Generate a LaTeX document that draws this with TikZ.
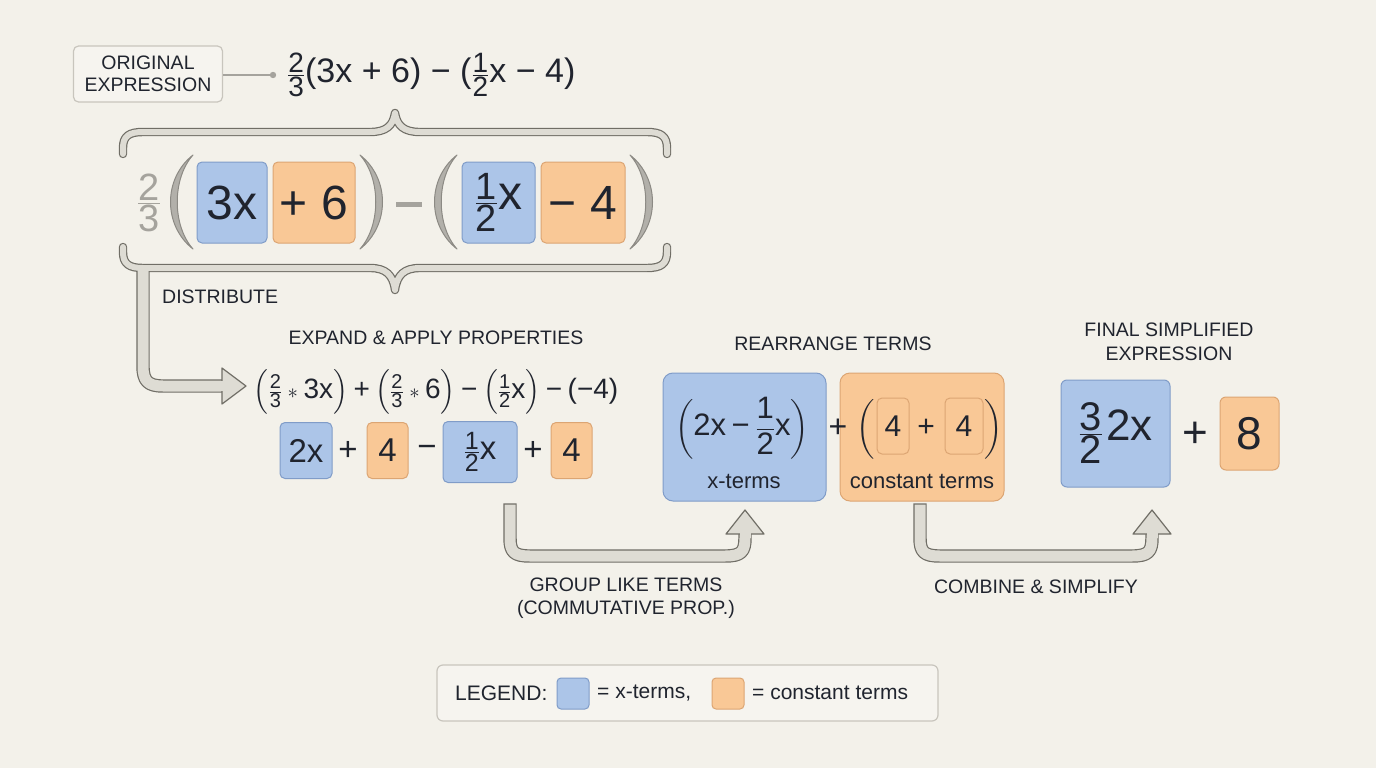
\documentclass[tikz,border=0pt]{standalone}
\usepackage{amsmath}
\usepackage{fontspec}
\setmainfont{Liberation Sans}
\definecolor{bg}{RGB}{243,241,234}
\definecolor{ink}{RGB}{32,36,46}
\definecolor{bfill}{RGB}{172,197,232}
\definecolor{bline}{RGB}{128,156,200}
\definecolor{ofill}{RGB}{249,200,150}
\definecolor{oline}{RGB}{220,165,115}
\definecolor{edge}{RGB}{112,110,102}
\definecolor{innerc}{RGB}{222,220,212}
\definecolor{pgray}{RGB}{165,163,157}
\definecolor{pfill}{RGB}{178,176,170}
\definecolor{pedge}{RGB}{140,138,132}
\definecolor{lgfill}{RGB}{246,244,239}
\definecolor{lgline}{RGB}{200,197,189}
\newcommand\ffrac[3]{\genfrac{}{}{}{}{\text{\fontsize{#1}{#1}\selectfont #2}}{\text{\fontsize{#1}{#1}\selectfont #3}}}
\newcommand\fs[1]{\fontsize{#1}{#1}\selectfont}
\newcommand\crescL[5]{\filldraw[parenstyle] (#1,#2) .. controls ({#1-#4},{#2+0.25*(#3-#2)}) and ({#1-#4},{#2+0.75*(#3-#2)}) .. (#1,#3) .. controls ({#1-#5},{#2+0.75*(#3-#2)}) and ({#1-#5},{#2+0.25*(#3-#2)}) .. (#1,#2) -- cycle;}
\newcommand\crescR[5]{\filldraw[parenstyle] (#1,#2) .. controls ({#1+#4},{#2+0.25*(#3-#2)}) and ({#1+#4},{#2+0.75*(#3-#2)}) .. (#1,#3) .. controls ({#1+#5},{#2+0.75*(#3-#2)}) and ({#1+#5},{#2+0.25*(#3-#2)}) .. (#1,#2) -- cycle;}
\tikzset{
  bx/.style={rounded corners=5pt, line width=1pt, inner sep=0pt, text=ink},
  xbox/.style={bx, fill=bfill, draw=bline},
  cbox/.style={bx, fill=ofill, draw=oline},
  lab/.style={font=\fs{19.5}, text=ink, align=center, inner sep=0pt},
  parenstyle/.style={fill=pfill, draw=pedge, line width=1pt, line join=round},
  bracestyle/.style={draw=edge, double=innerc, line width=1.2pt, double distance=6pt, line cap=round, line join=round},
  shaft/.style={draw=edge, double=innerc, line width=1.2pt, double distance=11pt, line join=round},
  headstyle/.style={fill=innerc, draw=edge, line width=1.2pt, line join=round},
}
\begin{document}
\begin{tikzpicture}[x=1pt,y=-1pt, every node/.style={text=ink, inner sep=0pt}]
\useasboundingbox (0,0) rectangle (1376,768);
\fill[bg] (0,0) rectangle (1376,768);

% ---------- original expression ----------
\node[lab, rounded corners=5pt, fill=lgfill, draw=lgline, line width=1.2pt, minimum width=149, minimum height=56, font=\fontsize{19.5}{22}\selectfont] (orig) at (148,74) {ORIGINAL\\EXPRESSION};
\coordinate (dot) at (273,75);
\draw[pgray, line width=1.2pt] (orig.east |- dot) -- (dot);
\fill[pgray] (dot) circle (3.2);
\node[anchor=west, font=\fs{34}] (expr) at (287,75) {$\ffrac{28}{2}{3}$(3x + 6) − ($\ffrac{28}{1}{2}$x − 4)};

% ---------- braces ----------
\draw[bracestyle] (123,154) -- (123,148) .. controls (123,136) and (129,132) .. (143,132) -- (370,132) .. controls (386,132) and (393,126) .. (395,113) .. controls (397,126) and (404,132) .. (420,132) -- (647,132) .. controls (661,132) and (667,136) .. (667,148) -- (667,154);
\draw[bracestyle] (123,247) -- (123,252) .. controls (123,264) and (129,268) .. (143,268) -- (370,268) .. controls (386,268) and (393,275) .. (395,290) .. controls (397,275) and (404,268) .. (420,268) -- (647,268) .. controls (661,268) and (667,264) .. (667,252) -- (667,247);

% ---------- grouped original ----------
\node[font=\fs{42}, text=pgray] (gfr) at (149,203) {$\ffrac{38}{2}{3}$};
\crescL{193}{155}{249}{30}{21}
\node[xbox, minimum width=70, minimum height=81, font=\fs{48}] (b3x) at (232,202.5) {3x};
\node[cbox, minimum width=82, minimum height=81, font=\fs{48}] (b6) at (314,202.5) {+ 6};
\crescR{360}{155}{249}{30}{21}
\draw[pgray, line width=5pt] (396,204) -- (422,204);
\crescL{457}{155}{249}{30}{21}
\node[xbox, minimum width=73, minimum height=81, font=\fs{48}] (bhx) at (498.5,202.5) {$\ffrac{38}{1}{2}$x};
\node[cbox, minimum width=84, minimum height=81, font=\fs{48}] (b4) at (583,202.5) {− 4};
\crescR{630}{155}{249}{30}{21}

% ---------- distribute ----------
\node[lab, anchor=west] (distl) at (162,297) {DISTRIBUTE};
\coordinate (d0) at (143,271);
\coordinate (d1) at (223,386);
\draw[shaft] (d0) -- (143,366) .. controls (143,381) and (148,386) .. (163,386) -- (d1);
\filldraw[headstyle] (222,368) -- (246,386) -- (222,404) -- cycle;
\fill[innerc] (218,380.6) rectangle (223.4,391.4);

% ---------- expand ----------
\node[lab] (expl) at (436,338) {EXPAND \& APPLY PROPERTIES};
\node[font=\fs{28}] (exp1) at (436,392) {$\left(\ffrac{20}{2}{3}\mathbin{\scriptstyle\ast}\text{3x}\right)\mathbin{\text{+}}\left(\ffrac{20}{2}{3}\mathbin{\scriptstyle\ast}\text{6}\right)\mathbin{\text{−}}\left(\ffrac{20}{1}{2}\text{x}\right)\mathbin{\text{−}}\text{(−4)}$};
\node[xbox, minimum width=52, minimum height=56, font=\fs{33}] (e2x) at (306,450.5) {2x};
\node[font=\fs{33}] (ep1) at (348,451) {+};
\node[cbox, minimum width=41, minimum height=56, font=\fs{33}] (e4a) at (387.5,450.5) {4};
\node[font=\fs{33}] (em1) at (427,451) {−};
\node[xbox, minimum width=74, minimum height=61, font=\fs{33}] (ehx) at (480,452) {$\ffrac{25}{1}{2}$x};
\node[font=\fs{33}] (ep2) at (533,451) {+};
\node[cbox, minimum width=41, minimum height=56, font=\fs{33}] (e4b) at (571.5,450.5) {4};

% ---------- rearrange ----------
\node[lab] (rearl) at (833,344) {REARRANGE TERMS};
\node[xbox, rounded corners=10pt, minimum width=163, minimum height=128] (bigx) at (744.5,437) {};
\node[cbox, rounded corners=10pt, minimum width=164, minimum height=128] (bigc) at (922,437) {};
\node[font=\fs{31}] (bxc) at (742,428) {$\left(\text{2x}\mathbin{\text{−}}\dfrac{\text{1}}{\text{2}}\text{x}\right)$};
\node[font=\fs{22}] (xtl) at (744,481) {x-terms};
\node[font=\fs{32}] (rp) at (838,428) {+};
\node[font=\fs{31}] (lpo) at (866,428) {$\left(\vphantom{\dfrac{\text{1}}{\text{2}}}\right.$};
\node[cbox, minimum width=32, minimum height=56, font=\fs{30}] (i4a) at (893,426) {4};
\node[font=\fs{30}] (ip) at (926,428) {+};
\node[cbox, minimum width=38, minimum height=56, font=\fs{30}] (i4b) at (964,426) {4};
\node[font=\fs{31}] (rpo) at (993,428) {$\left.\vphantom{\dfrac{\text{1}}{\text{2}}}\right)$};
\node[font=\fs{22}] (ctl) at (922,481) {constant terms};

% ---------- final ----------
\node[lab, font=\fontsize{19.5}{24}\selectfont] (finl) at (1169,342) {FINAL SIMPLIFIED\\EXPRESSION};
\node[xbox, rounded corners=6pt, minimum width=109, minimum height=107, font=\fs{44}] (fbx) at (1115.5,433.5) {$\ffrac{40}{3}{2}$\hspace{3pt}2x};
\node[font=\fs{44}] (fp) at (1195,435) {+};
\node[cbox, rounded corners=6pt, minimum width=59, minimum height=73, font=\fs{46}] (f8) at (1249.5,433.5) {8};

% ---------- group arrow ----------
\coordinate (g0) at (510,510);
\coordinate (g1) at (745,535);
\draw[shaft, line cap=rect] (g0) -- (510,538) .. controls (510,552) and (514,556) .. (530,556) -- (725,556) .. controls (741,556) and (745,552) .. (745,538) -- (g1);
\filldraw[headstyle] (726,534) -- (745,510) -- (764,534) -- cycle;
\fill[innerc] (739.5,532) rectangle (750.5,538);
\node[lab, font=\fontsize{19.5}{23}\selectfont] (grpl) at (626,598) {GROUP LIKE TERMS\\(COMMUTATIVE PROP.)};

% ---------- combine arrow ----------
\coordinate (c0) at (920,510);
\coordinate (c1) at (1152,535);
\draw[shaft, line cap=rect] (c0) -- (920,538) .. controls (920,552) and (924,556) .. (940,556) -- (1132,556) .. controls (1148,556) and (1152,552) .. (1152,538) -- (c1);
\filldraw[headstyle] (1133,534) -- (1152,510) -- (1171,534) -- cycle;
\fill[innerc] (1146.5,532) rectangle (1157.5,538);
\node[lab] (cmbl) at (1036,587) {COMBINE \& SIMPLIFY};

% ---------- legend ----------
\node[rounded corners=6pt, fill=lgfill, draw=lgline, line width=1.2pt, minimum width=501, minimum height=56] (legend) at (687.5,693) {};
\node[anchor=west, font=\fs{21}] (lgt) at (455,693) {LEGEND:};
\node[xbox, rounded corners=4pt, minimum width=32, minimum height=31] (lgb) at (573,693.5) {};
\node[anchor=west, font=\fs{21}] (lgbt) at (597,693) {= x-terms,};
\node[cbox, rounded corners=4pt, minimum width=32, minimum height=31] (lgo) at (728,693.5) {};
\node[anchor=west, font=\fs{21}] (lgot) at (752,693) {= constant terms};
\end{tikzpicture}
\end{document}
